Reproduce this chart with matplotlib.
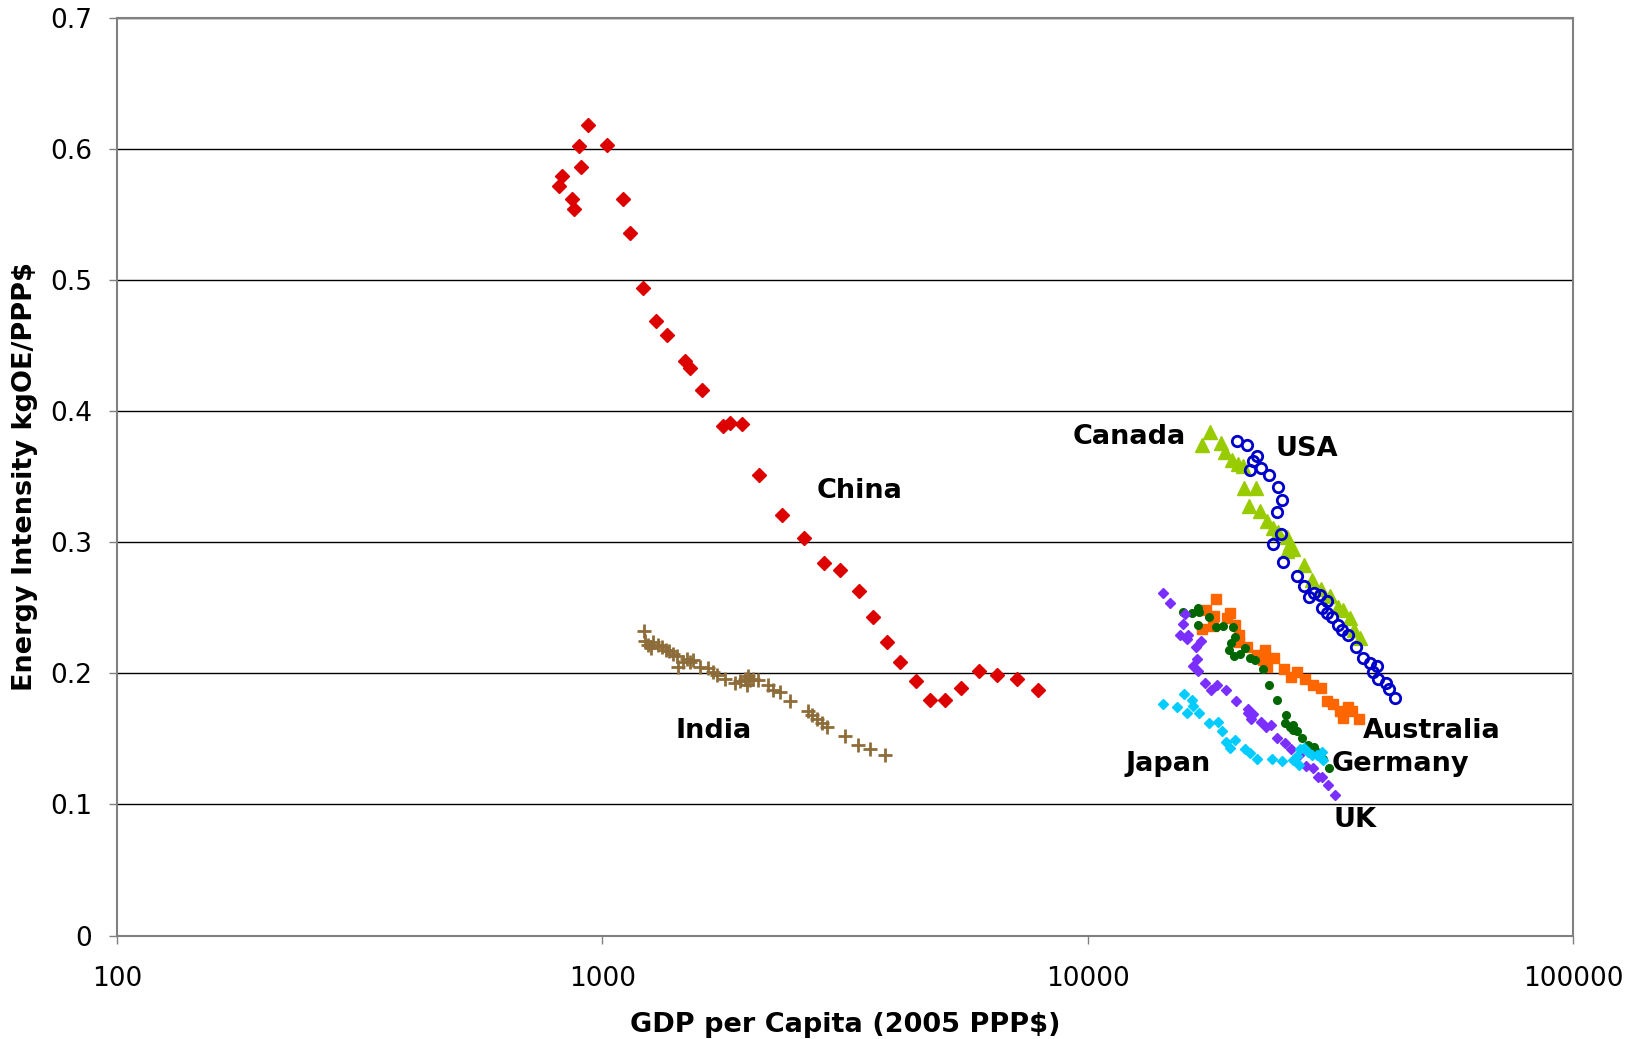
import matplotlib
matplotlib.use("Agg")
import matplotlib.pyplot as plt
from matplotlib.ticker import FixedLocator, NullLocator

# GDP per capita (2005 PPP$) vs energy intensity (kgOE / PPP$)
china_gdp = [935, 895, 1024, 904, 827, 815, 867, 873, 1102, 1139, 1211, 1292, 1357,
             1481, 1516, 1603, 1771, 1833, 1938, 2103, 2349, 2600, 2868, 3093, 3376,
             3618, 3867, 4112, 4423, 4733, 5083, 5483, 5965, 6507, 7143, 7892]
china_ei = [0.618, 0.602, 0.603, 0.586, 0.579, 0.572, 0.562, 0.554, 0.562, 0.536, 0.494,
            0.469, 0.458, 0.438, 0.433, 0.416, 0.389, 0.391, 0.390, 0.351, 0.321, 0.303,
            0.284, 0.279, 0.263, 0.243, 0.224, 0.209, 0.194, 0.180, 0.180, 0.189, 0.202,
            0.199, 0.196, 0.187]

india_gdp = [1219, 1225, 1244, 1258, 1274, 1304, 1326, 1353, 1375, 1397, 1424, 1435,
             1469, 1493, 1516, 1540, 1590, 1654, 1693, 1721, 1790, 1877, 1922, 1968,
             1984, 2000, 2016, 2048, 2097, 2199, 2251, 2324, 2437, 2657, 2701, 2766,
             2832, 2900, 3163, 3369, 3562, 3824]
india_ei = [0.232, 0.225, 0.222, 0.219, 0.224, 0.222, 0.220, 0.218, 0.217, 0.215, 0.213,
            0.205, 0.209, 0.211, 0.209, 0.210, 0.205, 0.204, 0.201, 0.199, 0.196, 0.193,
            0.194, 0.196, 0.191, 0.198, 0.195, 0.196, 0.195, 0.191, 0.187, 0.186, 0.179,
            0.171, 0.168, 0.165, 0.162, 0.159, 0.152, 0.145, 0.142, 0.138]

canada_gdp = [17876, 17186, 18833, 19193, 19812, 20443, 20934, 21006, 22233, 21536,
              22657, 23458, 24065, 24717, 25715, 26125, 26540, 25795, 27920, 28960,
              30223, 31589, 32859, 33647, 34734, 35396, 36420]
canada_ei = [0.384, 0.374, 0.376, 0.369, 0.363, 0.360, 0.358, 0.341, 0.341, 0.328,
             0.324, 0.316, 0.311, 0.308, 0.304, 0.299, 0.295, 0.293, 0.283, 0.271,
             0.264, 0.259, 0.251, 0.248, 0.242, 0.233, 0.227]

usa_gdp = [20289, 21272, 22373, 21889, 22734, 21612, 23650, 24717, 25188, 24566, 25029,
           24135, 25236, 27048, 27920, 28551, 29276, 30126, 31092, 30363, 31092, 31842,
           32859, 33393, 34352, 35738, 36995, 38188, 39421, 38790, 39722, 41200, 41851,
           42994]
usa_ei = [0.377, 0.374, 0.366, 0.362, 0.357, 0.355, 0.351, 0.342, 0.332, 0.323, 0.306,
          0.299, 0.285, 0.274, 0.267, 0.258, 0.261, 0.260, 0.255, 0.250, 0.246, 0.243,
          0.237, 0.233, 0.229, 0.220, 0.212, 0.208, 0.206, 0.201, 0.196, 0.193, 0.188,
          0.181]

australia_gdp = [18362, 17539, 18214, 19655, 19407, 20126, 17186, 18155, 20543, 20543,
                 21272, 22306, 23200, 23014, 23458, 24215, 23388, 25392, 26209, 27048,
                 28054, 29182, 30223, 31182, 31989, 33125, 33647, 34453, 35014, 36296]
australia_ei = [0.257, 0.248, 0.244, 0.246, 0.242, 0.237, 0.234, 0.236, 0.229, 0.224,
                0.220, 0.214, 0.218, 0.210, 0.212, 0.212, 0.205, 0.203, 0.197, 0.201,
                0.196, 0.191, 0.189, 0.179, 0.177, 0.171, 0.166, 0.174, 0.171, 0.165]

germany_gdp = [15748, 16389, 16911, 16993, 17818, 16864, 18391, 19039, 19962, 20126,
               19721, 19562, 20030, 20606, 21106, 21612, 22131, 22948, 23617, 24600,
               25631, 25509, 26125, 26460, 26540, 26972, 27621, 28499, 29276, 29738,
               30600, 31436]
germany_ei = [0.247, 0.246, 0.250, 0.247, 0.243, 0.237, 0.235, 0.236, 0.235, 0.228,
              0.223, 0.218, 0.213, 0.215, 0.219, 0.212, 0.210, 0.203, 0.191, 0.180,
              0.168, 0.162, 0.159, 0.157, 0.161, 0.156, 0.151, 0.145, 0.144, 0.140,
              0.135, 0.128]

uk_gdp = [14321, 14783, 15875, 15700, 15502, 16125, 16003, 17130, 16700, 16781, 16513,
          16864, 17454, 17934, 18506, 19261, 20196, 21375, 21431, 21889, 21683, 22734,
          23314, 23873, 24600, 25509, 26209, 27305, 28146, 29182, 29882, 30363, 31333,
          32344]
uk_ei = [0.261, 0.254, 0.245, 0.238, 0.229, 0.229, 0.226, 0.225, 0.220, 0.211, 0.206,
         0.202, 0.193, 0.187, 0.191, 0.187, 0.179, 0.173, 0.170, 0.169, 0.165, 0.163,
         0.159, 0.161, 0.151, 0.147, 0.142, 0.138, 0.129, 0.128, 0.121, 0.121, 0.115,
         0.107]

japan_gdp = [14321, 15303, 15798, 16047, 16389, 16513, 16993, 17818, 18593, 18895,
             19287, 19655, 20158, 21106, 21612, 22373, 24020, 25188, 26460, 27305,
             27400, 27920, 28499, 28960, 29658, 30600, 30363, 26972]
japan_ei = [0.177, 0.174, 0.184, 0.170, 0.180, 0.175, 0.170, 0.162, 0.163, 0.156,
            0.148, 0.143, 0.149, 0.142, 0.139, 0.135, 0.135, 0.133, 0.134, 0.130,
            0.142, 0.143, 0.140, 0.138, 0.138, 0.134, 0.140, 0.137]

label_names = ["China", "India", "Canada", "USA", "Australia", "Germany", "Japan", "UK"]
label_x = [3381, 1697, 12160, 28250, 51220, 44130, 14680, 35480]
label_y = [0.339, 0.156, 0.380, 0.371, 0.156, 0.131, 0.131, 0.088]

fig = plt.figure(figsize=(16.39, 10.39), dpi=100)
ax = fig.add_axes([0.0714, 0.0995, 0.8883, 0.8834])

ax.plot(china_gdp, china_ei, ls="none", marker="D", ms=7, color="#DD0000", zorder=3)
ax.plot(india_gdp, india_ei, ls="none", marker="+", ms=10, mew=2, color="#8E6C3A", zorder=3)
ax.plot(canada_gdp, canada_ei, ls="none", marker="^", ms=10, color="#99CC00", zorder=3)
ax.plot(usa_gdp, usa_ei, ls="none", marker="o", ms=7.5, mew=2, mfc="none",
        mec="#0000CC", zorder=4)
ax.plot(australia_gdp, australia_ei, ls="none", marker="s", ms=6.5, color="#FF6600", zorder=3)
ax.plot(germany_gdp, germany_ei, ls="none", marker="o", ms=5.5, color="#006600", zorder=4)
ax.plot(uk_gdp, uk_ei, ls="none", marker="D", ms=5, color="#7B2FFF", zorder=4)
ax.plot(japan_gdp, japan_ei, ls="none", marker="D", ms=5, color="#00CCFF", zorder=5)

for name, lx, ly in zip(label_names, label_x, label_y):
    ax.text(lx, ly, name, ha="center", va="center", fontsize=19.5,
            fontweight="bold", color="black", zorder=6)

ax.set_xscale("log")
ax.set_xlim(100, 100000)
ax.set_ylim(0, 0.7)
ax.xaxis.set_major_locator(FixedLocator([100, 1000, 10000, 100000]))
ax.xaxis.set_minor_locator(NullLocator())
ax.set_xticklabels(["100", "1000", "10000", "100000"])
ax.set_yticks([0, 0.1, 0.2, 0.3, 0.4, 0.5, 0.6, 0.7])
ax.set_yticklabels(["0", "0.1", "0.2", "0.3", "0.4", "0.5", "0.6", "0.7"])
ax.tick_params(labelsize=19, length=6, width=1, color="#808080", direction="out")
ax.tick_params(axis="x", pad=16)
ax.tick_params(axis="y", pad=12)

ax.yaxis.grid(True, color="black", lw=1)
ax.set_axisbelow(True)
for s in ax.spines.values():
    s.set_color("#808080")
    s.set_linewidth(1.5)

ax.set_xlabel("GDP per Capita (2005 PPP$)", fontsize=19.5, fontweight="bold", labelpad=14)
ax.set_ylabel("Energy Intensity kgOE/PPP$", fontsize=19.5, fontweight="bold", labelpad=9)

fig.savefig("out.png", dpi=100)
